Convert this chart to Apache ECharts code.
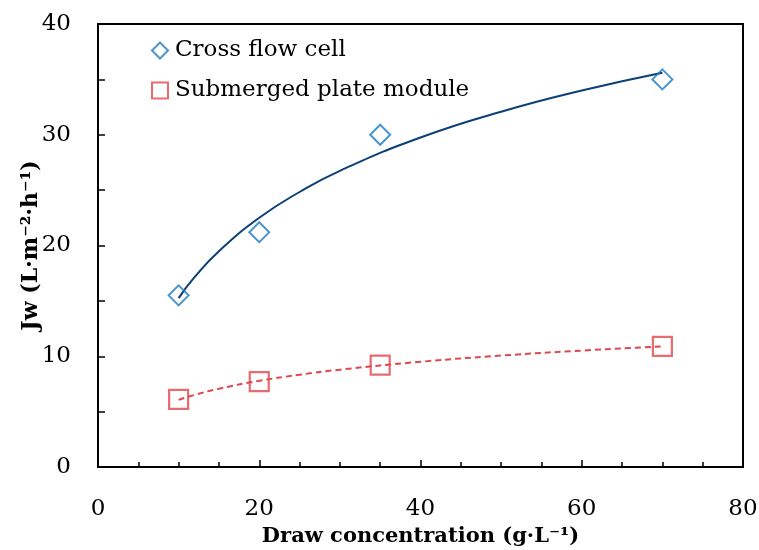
<!DOCTYPE html>
<html>
<head>
<meta charset="utf-8">
<script src="https://cdn.jsdelivr.net/npm/echarts@6/dist/echarts.min.js"></script>
<style>
  html, body { margin: 0; padding: 0; background: #fff; }
  #chart { width: 759px; height: 550px; }
</style>
</head>
<body>
<div id="chart"></div>
<script>
// measured points
const drawConc = [10, 20, 35, 70]
const crossFlow = [15.5, 21.2, 30, 35]
const submerged = [6.1, 7.7, 9.2, 10.9]

// trend curves
const trendX = [10, 12, 15, 20, 25, 30, 40, 50, 60, 70]
const crossTrend = [15.25, 17.16, 19.49, 22.5, 24.83, 26.74, 29.75, 32.08, 33.99, 35.6]
const submergedTrend = [6.06, 6.51, 7.07, 7.78, 8.33, 8.79, 9.5, 10.06, 10.51, 10.89]

const xTicks = [0, 20, 40, 60, 80]
const yTicks = [0, 10, 20, 30, 40]

const font = '"DejaVu Serif", "Liberation Serif", serif'
const pair = (xs, ys) => xs.map((x, i) => [x, ys[i]])

const mychart = echarts.init(document.getElementById('chart'))

mychart.setOption({
  animation: false,
  grid: {
    left: 98, right: 16, top: 24, bottom: 83,
    outerBoundsMode: 'none',
    show: true, borderColor: '#000', borderWidth: 2
  },
  legend: {
    data: ['Cross flow cell', 'Submerged plate module'],
    orient: 'vertical',
    left: 146, top: 34,
    itemWidth: 16, itemHeight: 16, itemGap: 17,
    textStyle: { fontFamily: font, fontSize: 23, color: '#000', padding: [0, 0, 0, 2] }
  },
  xAxis: {
    type: 'value',
    min: 0, max: 80, interval: 20,
    name: 'Draw concentration (g·L⁻¹)',
    nameLocation: 'middle', nameGap: 59,
    nameMoveOverlap: false,
    nameTextStyle: { fontFamily: font, fontSize: 21, fontWeight: 'bold', color: '#000' },
    axisLine: { lineStyle: { color: '#000', width: 2 } },
    axisTick: { inside: true, length: 7, lineStyle: { color: '#000', width: 1.5 } },
    minorTick: { show: true, splitNumber: 4, length: 5, lineStyle: { color: '#000', width: 1.5 } },
    axisLabel: {
      margin: 31, fontFamily: font, fontSize: 23, color: '#000',
      formatter: v => xTicks.includes(v) ? String(v) : ''
    },
    splitLine: { show: false }
  },
  yAxis: {
    type: 'value',
    min: 0, max: 40, interval: 10,
    name: 'Jw (L·m⁻²·h⁻¹)',
    nameLocation: 'middle', nameGap: 56,
    nameMoveOverlap: false,
    nameTextStyle: { fontFamily: font, fontSize: 22, fontWeight: 'bold', color: '#000' },
    axisLine: { show: true, lineStyle: { color: '#000', width: 2 } },
    axisTick: { show: true, inside: true, length: 7, lineStyle: { color: '#000', width: 1.5 } },
    minorTick: { show: true, splitNumber: 2, length: 7, lineStyle: { color: '#000', width: 1.5 } },
    axisLabel: {
      margin: 27, fontFamily: font, fontSize: 23, color: '#000',
      formatter: v => yTicks.includes(v) ? String(v) : ''
    },
    splitLine: { show: false }
  },
  series: [
    {
      name: 'cross trend',
      type: 'line',
      data: pair(trendX, crossTrend),
      smooth: true,
      symbol: 'none',
      lineStyle: { color: '#0b3f78', width: 2 },
      z: 1
    },
    {
      name: 'submerged trend',
      type: 'line',
      data: pair(trendX, submergedTrend),
      smooth: true,
      symbol: 'none',
      lineStyle: { color: '#e0474c', width: 2, type: [6, 4] },
      z: 1
    },
    {
      name: 'Cross flow cell',
      type: 'scatter',
      data: pair(drawConc, crossFlow),
      symbol: 'diamond',
      symbolSize: 20,
      itemStyle: { color: 'rgba(255,255,255,0)', borderColor: '#1a7bc4', borderWidth: 2 },
      z: 3
    },
    {
      name: 'Submerged plate module',
      type: 'scatter',
      data: pair(drawConc, submerged),
      symbol: 'rect',
      symbolSize: 19,
      itemStyle: { color: 'rgba(255,255,255,0)', borderColor: '#e0474c', borderWidth: 2.2 },
      z: 3
    }
  ]
})
</script>
</body>
</html>
